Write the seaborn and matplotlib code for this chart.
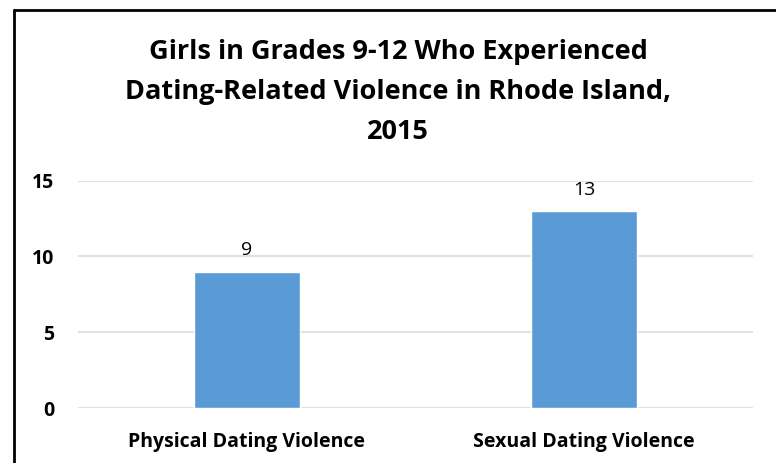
import pandas as pd
import matplotlib
matplotlib.use('Agg')
import matplotlib.pyplot as plt
import seaborn as sns
from matplotlib.lines import Line2D

# data
categories = ['Physical Dating Violence', 'Sexual Dating Violence']
values = [9, 13]
yticks = [0, 5, 10, 15]
title = 'Girls in Grades 9-12 Who Experienced\nDating-Related Violence in Rhode Island,\n2015'

sns.set_theme(style='white')
plt.rcParams['font.family'] = ['Open Sans', 'DejaVu Sans']

df = pd.DataFrame({'category': categories, 'value': values})

fig = plt.figure(figsize=(7.76, 4.63), dpi=100)
ax = fig.add_axes([78 / 776, 55 / 463, 675 / 776, 227.3 / 463])

sns.barplot(data=df, x='category', y='value', color='#5B9BD5', width=0.313,
            saturation=1, ax=ax, zorder=3)

ax.set_ylim(0, 15)
ax.set_xlim(-0.5, 1.5)
ax.set_yticks(yticks)
ax.yaxis.grid(True, color='#D9D9D9', linewidth=1.1, zorder=0)
ax.set_axisbelow(True)
for s in ax.spines.values():
    s.set_visible(False)
ax.set_xlabel('')
ax.set_ylabel('')
ax.tick_params(axis='y', length=0, pad=17, labelsize=14)
ax.tick_params(axis='x', length=0, pad=17, labelsize=14)
for lbl in ax.get_yticklabels() + ax.get_xticklabels():
    lbl.set_fontweight('bold')
    lbl.set_color('black')

# value labels above bars
for p, v in zip(ax.patches, values):
    ax.annotate(str(v), (p.get_x() + p.get_width() / 2, p.get_height()),
                xytext=(0, 9), textcoords='offset points',
                ha='center', va='bottom', fontsize=14, color='black')

fig.text(398 / 776, 1 - 39 / 463, title, ha='center', va='top',
         fontsize=19.5, fontweight='bold', linespacing=1.7, color='black')

# cropped chart border (top and left edges)
fig.add_artist(Line2D([14 / 776, 1], [1 - 10 / 463, 1 - 10 / 463],
                      transform=fig.transFigure, color='black', lw=2))
fig.add_artist(Line2D([14 / 776, 14 / 776], [0, 1 - 10 / 463],
                      transform=fig.transFigure, color='black', lw=2))

fig.savefig('out.png', dpi=100)
plt.close(fig)
